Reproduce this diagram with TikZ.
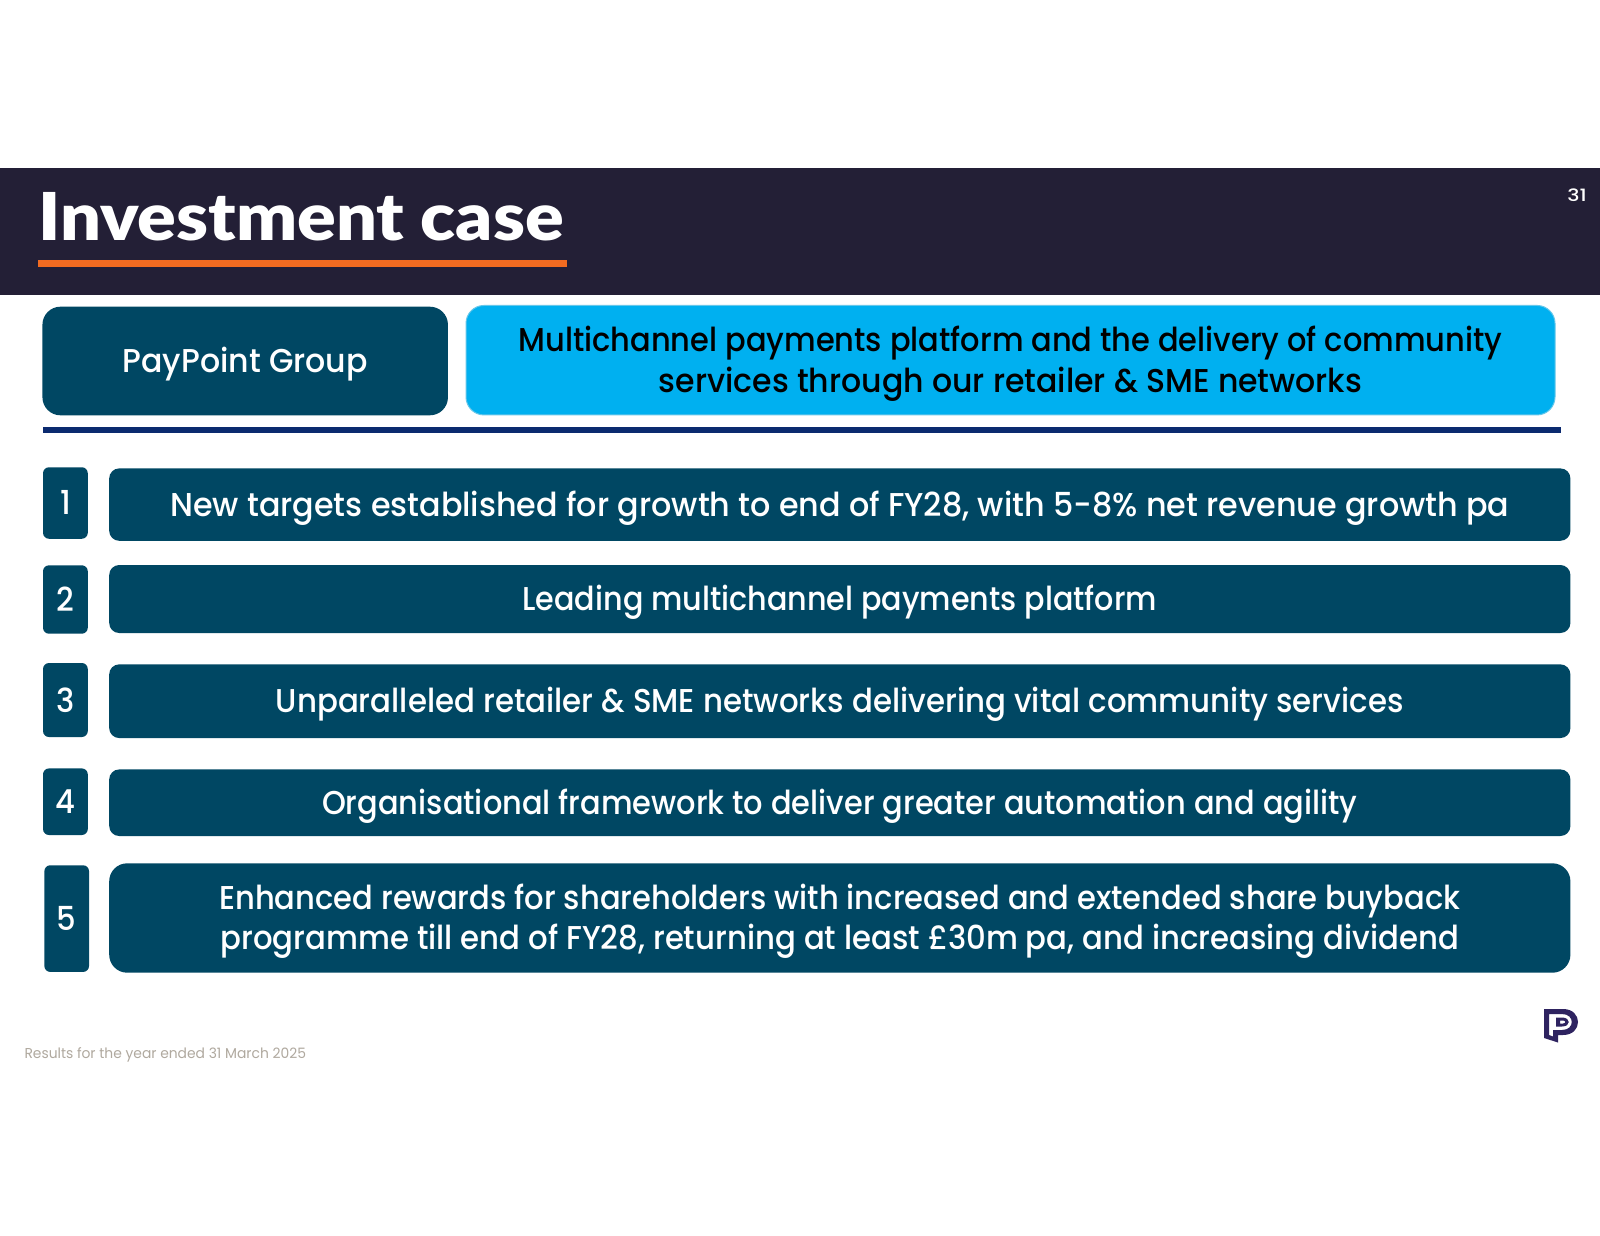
\documentclass[tikz,border=0pt]{standalone}
\usepackage{fontspec}
\setmainfont[FakeStretch=0.93,UprightFont={* Medium}]{Poppins}
\newfontfamily\footfont[FakeStretch=0.97]{Poppins}
\newfontfamily\titlefont[FakeStretch=1.09,BoldFont={* Black}]{Lato}
\definecolor{hdr}{HTML}{231F36}
\definecolor{orangebar}{HTML}{F26B21}
\definecolor{teal}{HTML}{004763}
\definecolor{skyb}{HTML}{00B0F0}
\definecolor{rulec}{HTML}{0B2A6F}
\definecolor{foot}{HTML}{B0A99F}
\definecolor{logoc}{HTML}{2E2360}
\newcommand{\sx}[2]{\scalebox{#1}[1]{#2}}
\tikzset{
  panel/.style={fill=teal,rounded corners=#1,inner sep=0pt},
  panel/.default=10pt,
  badge/.style={fill=teal,text=white,rounded corners=6pt,inner sep=0pt,font=\fontsize{33}{40}\selectfont},
  txt/.style={text=white,inner sep=0pt,align=center,yshift=-3.5pt,font=\fontsize{33}{40.2}\selectfont}
}
\begin{document}
\begin{tikzpicture}[x=1pt,y=-1pt]
\useasboundingbox (0,0) rectangle (1600,1236);
\fill[white] (0,0) rectangle (1600,1236);
\node[fill=hdr,minimum width=1600pt,minimum height=127pt,inner sep=0pt] (header) at (800,231.5) {};
\node[fill=orangebar,minimum width=529pt,minimum height=6.5pt,inner sep=0pt] (underline) at (302,263.3) {};
\node[text=white,inner sep=0pt,anchor=base west,font=\titlefont\bfseries\fontsize{66}{70}\selectfont] (title) at (38,240) {Investment case};
\node[text=white,inner sep=0pt,font=\fontsize{17}{18}\selectfont] (page) at (1577,195) {\sx{1.3}{31}};
\node[panel=18pt,minimum width=405.5pt,minimum height=108.6pt] (group) at (245.2,361) {};
\node[txt] (tgroup) at (group) {\sx{1.03}{PayPoint Group}};
\node[panel=18pt,fill=skyb,draw=black!8!skyb!60!white,line width=1pt,minimum width=1089pt,minimum height=109.5pt] (desc) at (1010.5,360.2) {};
\node[txt,text=black] (tdesc) at (desc) {\sx{0.992}{Multichannel payments platform and the delivery of community}\\\sx{1.028}{services through our retailer \& SME networks}};
\node[fill=rulec,minimum width=1518pt,minimum height=5.2pt,inner sep=0pt] (rule) at (802.3,430) {};
\node[badge,minimum width=44.8pt,minimum height=71.5pt] (n1) at (65.4,503) {\raisebox{1pt}{1}};
\node[panel,minimum width=1461.2pt,minimum height=72.4pt] (b1) at (839.8,504.6) {};
\node[txt] (t1) at (b1) {\sx{1.036}{New targets established for growth to end of FY28, with 5-8\% net revenue growth pa}};
\node[badge,minimum width=44.8pt,minimum height=68.4pt] (n2) at (65.4,599.5) {2};
\node[panel,minimum width=1461.2pt,minimum height=68pt] (b2) at (839.8,599) {};
\node[txt] (t2) at (b2) {\sx{0.984}{Leading multichannel payments platform}};
\node[badge,minimum width=44.8pt,minimum height=74pt] (n3) at (65.4,700) {3};
\node[panel,minimum width=1461.2pt,minimum height=73.7pt] (b3) at (839.8,701.2) {};
\node[txt] (t3) at (b3) {\sx{1.005}{Unparalleled retailer \& SME networks delivering vital community services}};
\node[badge,minimum width=44.8pt,minimum height=66.6pt] (n4) at (65.4,801.7) {\raisebox{1pt}{4}};
\node[panel,minimum width=1461.2pt,minimum height=66.6pt] (b4) at (839.8,802.7) {};
\node[txt] (t4) at (b4) {\sx{0.992}{Organisational framework to deliver greater automation and agility}};
\node[badge,minimum width=44.7pt,minimum height=106.7pt] (n5) at (66.7,918.6) {5};
\node[panel=18pt,minimum width=1461.2pt,minimum height=109.4pt] (b5) at (839.8,918) {};
\node[txt] (t5) at (b5) {\sx{0.996}{Enhanced rewards for shareholders with increased and extended share buyback}\\\sx{1.002}{programme till end of FY28, returning at least £30m pa, and increasing dividend}};
\node[text=foot,inner sep=0pt,anchor=west,font=\footfont\fontsize{14.3}{16}\selectfont] (footer) at (24.3,1055) {Results for the year ended 31 March 2025};
% logo
\fill[logoc,even odd rule] (1544,1009) -- (1563,1009) .. controls (1583,1009) and (1583,1035) .. (1563,1035) -- (1558,1035) -- (1558,1042.5) -- (1544,1038) -- cycle
  (1549,1014) -- (1549,1035) -- (1553,1036.5) -- (1553,1030) -- (1562,1030) .. controls (1575,1030) and (1575,1014) .. (1562,1014) -- cycle;
\fill[logoc,even odd rule] (1556,1017.5) -- (1562,1017.5) .. controls (1571,1017.5) and (1571,1026.5) .. (1562,1026.5) -- (1556,1026.5) -- cycle
  (1560,1020.5) -- (1560,1023.5) -- (1563,1023.5) .. controls (1566,1023.5) and (1566,1020.5) .. (1563,1020.5) -- cycle;
\end{tikzpicture}
\end{document}
